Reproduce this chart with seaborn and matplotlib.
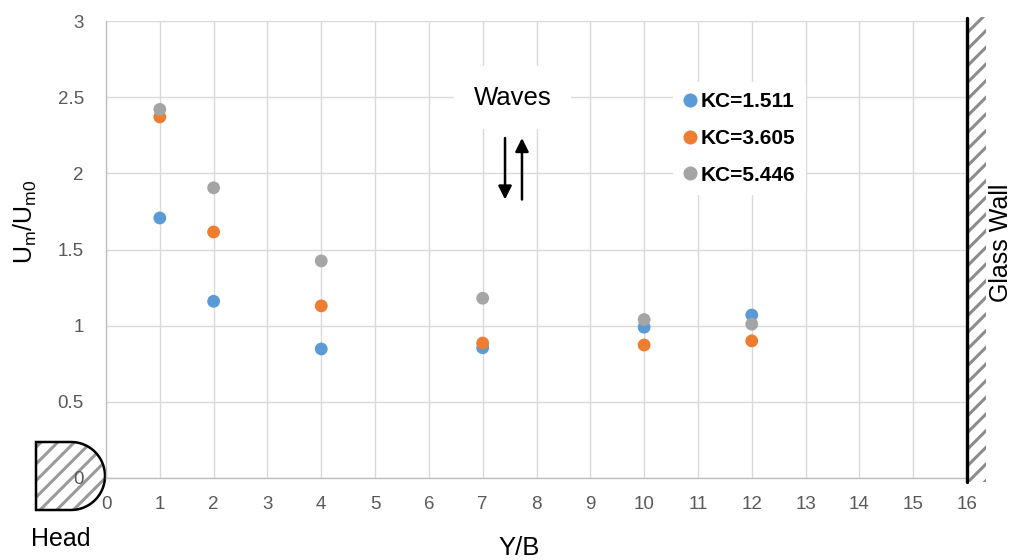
#!/usr/bin/env python3
'''Um/Um0 versus Y/B for three KC values, with head and glass wall sketches'''

import numpy as np
import pandas as pd
import matplotlib
matplotlib.use('Agg')
import matplotlib.pyplot as plt
from matplotlib.patches import Polygon, Rectangle
import seaborn as sns

# data
y_over_b = [1, 2, 4, 7, 10, 12]
kc_1511 = [1.707, 1.16, 0.847, 0.855, 0.99, 1.07]
kc_3605 = [2.37, 1.615, 1.13, 0.886, 0.873, 0.90]
kc_5446 = [2.42, 1.905, 1.425, 1.18, 1.04, 1.01]
series_names = ['KC=1.511', 'KC=3.605', 'KC=5.446']
colors = ['#5B9BD5', '#ED7D31', '#A5A5A5']
x_ticks = list(range(0, 17))
y_ticks = [0, 0.5, 1, 1.5, 2, 2.5, 3]
y_tick_labels = ['0', '0.5', '1', '1.5', '2', '2.5', '3']

df = pd.DataFrame({
    'Y/B': y_over_b * 3,
    'ratio': kc_1511 + kc_3605 + kc_5446,
    'series': [n for n in series_names for _ in y_over_b],
})

sns.set_theme(style='whitegrid')
plt.rcParams['font.family'] = ['Liberation Sans', 'DejaVu Sans']
plt.rcParams['text.color'] = 'black'
plt.rcParams['hatch.color'] = '#8c8c8c'
plt.rcParams['hatch.linewidth'] = 2.2

fig = plt.figure(figsize=(10.11, 5.60), dpi=100)
ax = fig.add_axes([106 / 1011, 1 - 478 / 560, 861 / 1011, 457 / 560])

sns.scatterplot(data=df, x='Y/B', y='ratio', hue='series', palette=colors,
                s=85, edgecolor='none', ax=ax, zorder=3)

ax.set_xlim(0, 16)
ax.set_ylim(0, 3)
ax.set_xticks(x_ticks)
ax.set_yticks(y_ticks)
ax.set_yticklabels(y_tick_labels)
ax.grid(True, color='#d9d9d9', linewidth=1)
ax.tick_params(axis='both', length=0, labelsize=13.5, labelcolor='#595959')
ax.tick_params(axis='y', pad=16)
ax.tick_params(axis='x', pad=13)
for side in ['top', 'right']:
    ax.spines[side].set_visible(False)
ax.spines['left'].set_color('#bfbfbf')
ax.spines['bottom'].set_color('#bfbfbf')
ax.spines['left'].set_linewidth(1)
ax.spines['bottom'].set_linewidth(1)

ax.set_xlabel('')
ax.set_ylabel('')
fig.text(519 / 1011, 1 - 548 / 560, 'Y/B', fontsize=18.5, ha='center', va='center')
fig.text(25 / 1011, 1 - 222 / 560, r'$\mathregular{U_m/U_{m0}}$', fontsize=18,
         rotation=90, ha='center', va='center')

# legend
leg = ax.legend(loc='upper left', bbox_to_anchor=(0.647, 0.89), frameon=True,
                fontsize=15, handlelength=0.6, handletextpad=0.2,
                labelspacing=0.85, borderpad=0.5, markerscale=1.1)
leg.get_frame().set_facecolor('white')
leg.get_frame().set_edgecolor('none')
leg.get_frame().set_alpha(1)
for t in leg.get_texts():
    t.set_fontweight('bold')
    t.set_color('black')

# waves label and arrows
ax.text(7.55, 2.495, 'Waves', fontsize=18.5, ha='center', va='center', zorder=4,
        bbox=dict(facecolor='white', edgecolor='none', pad=14))
ax.annotate('', xy=(7.415, 1.81), xytext=(7.415, 2.25),
            arrowprops=dict(arrowstyle='-|>', color='black', lw=1.8, mutation_scale=20))
ax.annotate('', xy=(7.73, 2.25), xytext=(7.73, 1.81),
            arrowprops=dict(arrowstyle='-|>', color='black', lw=1.8, mutation_scale=20))

# glass wall
ax.add_patch(Rectangle((16, -0.026), 0.35, 3.05, facecolor='white', edgecolor='#8c8c8c',
                       linewidth=0, hatch='//', clip_on=False, zorder=2))
ax.plot([16, 16], [-0.026, 3.02], color='black', linewidth=2.4, clip_on=False, zorder=4)
fig.text(1001 / 1011, 1 - 243 / 560, 'Glass Wall', fontsize=18, rotation=90,
         ha='center', va='center')

# head sketch (figure inches)
theta = np.linspace(np.pi / 2, -np.pi / 2, 60)
arc = np.column_stack([0.71 + 0.34 * np.cos(theta), 0.84 + 0.34 * np.sin(theta)])
head = np.vstack([[[0.36, 0.50], [0.36, 1.18]], arc])
tr = fig.dpi_scale_trans
ax.add_patch(Polygon(head, closed=True, facecolor='white', edgecolor='#9a9a9a', linewidth=0,
                     hatch='//', transform=tr, clip_on=False, zorder=0.3))
ax.add_patch(Polygon(head, closed=True, fill=False, edgecolor='black', linewidth=1.8,
                     transform=tr, clip_on=False, zorder=0.35))
fig.text(61 / 1011, 1 - 539 / 560, 'Head', fontsize=18, ha='center', va='center')

fig.savefig('out.png', dpi=100)
